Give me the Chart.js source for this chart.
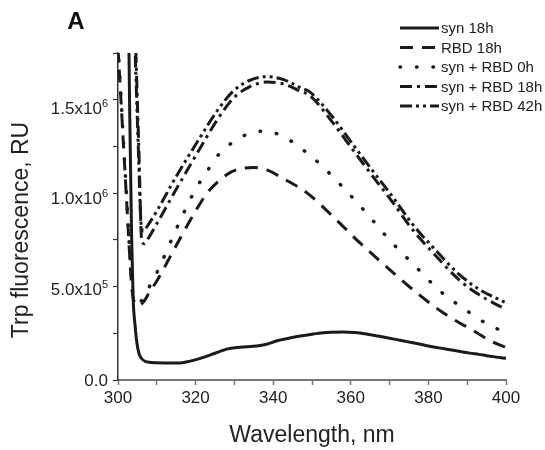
<!DOCTYPE html>
<html lang="en">
<head>
    <meta charset="UTF-8">
    <title>Trp fluorescence</title>
    <script src="https://cdn.jsdelivr.net/npm/chart.js"></script>
    <style>
        html, body { margin: 0; padding: 0; background: #fff; }
        #wrap { width: 545px; height: 450px; }
    </style>
</head>
<body>
    <div id="wrap"><canvas id="spectra"></canvas></div>

    <script>
        // wavelength (nm) and intensity (RU) for each trace
        const synX = [302.5, 303.0, 303.5, 303.9, 304.4, 304.9, 305.5, 306.2, 307, 308, 310, 313, 316, 318.6, 321, 323.7, 326, 328, 331.4, 335.8, 338, 341, 344, 347, 350, 352.9, 355, 358, 361, 364, 367, 370, 373, 376, 378.5, 381, 383.5, 386, 388.5, 390.7, 393, 395, 397.5, 400];
        const synY = [2400000, 1500000, 800000, 450000, 300000, 200000, 140000, 115000, 103000, 98000, 95000, 93000, 94000, 104000, 118000, 137000, 155000, 170000, 180000, 187000, 195000, 216000, 230000, 242000, 252000, 260000, 263000, 264000, 261000, 253000, 242000, 230000, 217000, 205000, 194000, 183000, 174000, 165000, 156000, 148000, 141000, 134000, 126000, 119000];

        const rbdX = [300, 301, 302, 303, 303.6, 304.4, 305.4, 306.6, 308, 310, 315, 320, 323, 328, 331, 334.9, 338.5, 342.5, 348.7, 355.4, 361.6, 368.3, 377, 383.8, 392.5, 396, 400];
        const rbdY = [1830000, 1450000, 1070000, 690000, 500000, 420000, 410000, 430000, 480000, 545000, 740000, 930000, 1030000, 1130000, 1160000, 1170000, 1155000, 1110000, 1030000, 900000, 770000, 640000, 480000, 370000, 260000, 215000, 180000];

        const mix0X = [300, 301, 302, 303, 303.6, 304.4, 305.4, 306.6, 308, 310, 315, 320, 323, 325.5, 329, 333, 337.4, 341, 345, 348.7, 352, 358, 364, 370, 376, 383, 390, 395, 400];
        const mix0Y = [1850000, 1470000, 1090000, 710000, 520000, 440000, 430000, 450000, 510000, 590000, 830000, 1050000, 1150000, 1230000, 1300000, 1350000, 1370000, 1355000, 1310000, 1250000, 1190000, 1060000, 920000, 770000, 640000, 490000, 380000, 310000, 260000];

        const mix18X = [304.4, 305.4, 306.1, 306.8, 307.5, 310, 315, 321, 325.5, 329.7, 334, 338.4, 342.5, 347, 349.5, 355.4, 360.6, 365.7, 370.9, 376, 381.2, 388, 393, 398.5, 400];
        const mix18Y = [1950000, 1250000, 770000, 750000, 770000, 860000, 1050000, 1270000, 1430000, 1550000, 1615000, 1640000, 1630000, 1590000, 1565000, 1415000, 1265000, 1120000, 975000, 825000, 700000, 550000, 470000, 405000, 390000];

        const mix42X = [304.2, 305.2, 306.0, 306.6, 307.5, 310, 315, 321, 325.5, 329.7, 334, 338.4, 342.5, 347, 349.5, 355.4, 360.6, 365.7, 370.9, 376, 381.2, 388, 393, 398.5, 400];
        const mix42Y = [1950000, 1300000, 850000, 820000, 845000, 930000, 1120000, 1330000, 1480000, 1590000, 1650000, 1670000, 1655000, 1610000, 1585000, 1445000, 1295000, 1150000, 1005000, 855000, 730000, 580000, 500000, 440000, 425000];

        const seriesNames = ['syn 18h', 'RBD 18h', 'syn + RBD 0h', 'syn + RBD 18h', 'syn + RBD 42h'];
        // y labels: mantissa text and power of ten (drawn as superscript)
        const yTickValues = [0, 500000, 1000000, 1500000];
        const yTickBases = ['0.0', '5.0x10', '1.0x10', '1.5x10'];
        const yTickPowers = ['', '5', '6', '6'];

        const FONT = "'Liberation Sans', Arial, sans-serif";
        const INK = '#1a1a1a';

        const pts = (xs, ys) => xs.map((x, i) => ({ x: x, y: ys[i] }));

        const styles = [
            { dash: [], width: 3, cap: 'butt' },
            { dash: [13, 9], width: 3, cap: 'butt' },
            { dash: [0.5, 16], width: 3.5, cap: 'round' },
            { dash: [12, 5, 3, 5], width: 3, cap: 'butt' },
            { dash: [12, 4, 3, 4, 3, 4], width: 3, cap: 'butt' }
        ];
        const sources = [[synX, synY], [rbdX, rbdY], [mix0X, mix0Y], [mix18X, mix18Y], [mix42X, mix42Y]];

        const datasets = sources.map((s, i) => ({
            label: seriesNames[i],
            data: pts(s[0], s[1]),
            borderColor: INK,
            borderWidth: styles[i].width,
            borderDash: styles[i].dash,
            borderCapStyle: styles[i].cap,
            pointRadius: 0,
            fill: false,
            cubicInterpolationMode: 'monotone'
        }));

        // panel letter, y tick labels with exponents, rotated y title and the legend
        const decorations = {
            id: 'decorations',
            afterDraw(chart) {
                const ctx = chart.ctx;
                const yScale = chart.scales.y;
                ctx.save();
                ctx.fillStyle = '#111';
                ctx.font = 'bold 24px ' + FONT;
                ctx.textAlign = 'center';
                ctx.textBaseline = 'middle';
                ctx.fillText('A', 76, 22);

                ctx.fillStyle = '#222';
                ctx.textBaseline = 'alphabetic';
                yTickValues.forEach((v, k) => {
                    const py = yScale.getPixelForValue(v);
                    const right = yScale.right - 10;
                    ctx.font = '11px ' + FONT;
                    const sw = ctx.measureText(yTickPowers[k]).width;
                    ctx.textAlign = 'left';
                    ctx.fillText(yTickPowers[k], right - sw, py - 1);
                    ctx.font = '17px ' + FONT;
                    ctx.textAlign = 'right';
                    ctx.fillText(yTickBases[k], right - sw, py + 6);
                });

                ctx.textAlign = 'center';
                ctx.textBaseline = 'middle';
                ctx.font = '23px ' + FONT;
                ctx.translate(22, 230);
                ctx.rotate(-Math.PI / 2);
                ctx.fillText('Trp fluorescence, RU', 0, 0);
                ctx.restore();

                ctx.save();
                ctx.font = '15px ' + FONT;
                ctx.textAlign = 'left';
                ctx.textBaseline = 'middle';
                chart.data.datasets.forEach((ds, i) => {
                    const y = 28 + i * 19.5;
                    ctx.strokeStyle = INK;
                    ctx.lineWidth = ds.borderWidth;
                    ctx.lineCap = ds.borderCapStyle;
                    ctx.setLineDash(ds.borderDash);
                    ctx.beginPath();
                    ctx.moveTo(400, y);
                    ctx.lineTo(439, y);
                    ctx.stroke();
                    ctx.fillStyle = '#222';
                    ctx.fillText(ds.label, 441, y + 1);
                });
                ctx.restore();
            }
        };

        new Chart(document.getElementById('spectra'), {
            type: 'line',
            data: { datasets: datasets },
            options: {
                responsive: true,
                maintainAspectRatio: false,
                animation: false,
                layout: { padding: { left: 0, right: 39, top: 53, bottom: 0 } },
                plugins: { legend: { display: false }, tooltip: { enabled: false } },
                scales: {
                    x: {
                        type: 'linear',
                        min: 300,
                        max: 400,
                        afterFit: s => { s.height = 70; },
                        border: { color: '#777', width: 2 },
                        grid: { drawOnChartArea: false, color: '#777', tickLength: 5, tickWidth: 1.5 },
                        ticks: {
                            stepSize: 10,
                            padding: 3,
                            color: '#222',
                            font: { family: FONT, size: 17 },
                            maxRotation: 0,
                            autoSkip: false,
                            callback: v => (v % 20 === 0 ? v : '')
                        },
                        title: {
                            display: true,
                            text: 'Wavelength, nm',
                            color: '#222',
                            font: { family: FONT, size: 23 },
                            padding: { top: 0, bottom: 1 }
                        }
                    },
                    y: {
                        min: 0,
                        max: 1800000,
                        afterFit: s => { s.width = 118; },
                        border: { color: '#333', width: 1.5 },
                        grid: { drawOnChartArea: false, color: '#333', tickLength: 5, tickWidth: 1.2 },
                        ticks: {
                            stepSize: 250000,
                            includeBounds: false,
                            autoSkip: false,
                            display: true,
                            font: { family: FONT, size: 17 },
                            callback: () => ''
                        }
                    }
                }
            },
            plugins: [decorations]
        });
    </script>
</body>
</html>
